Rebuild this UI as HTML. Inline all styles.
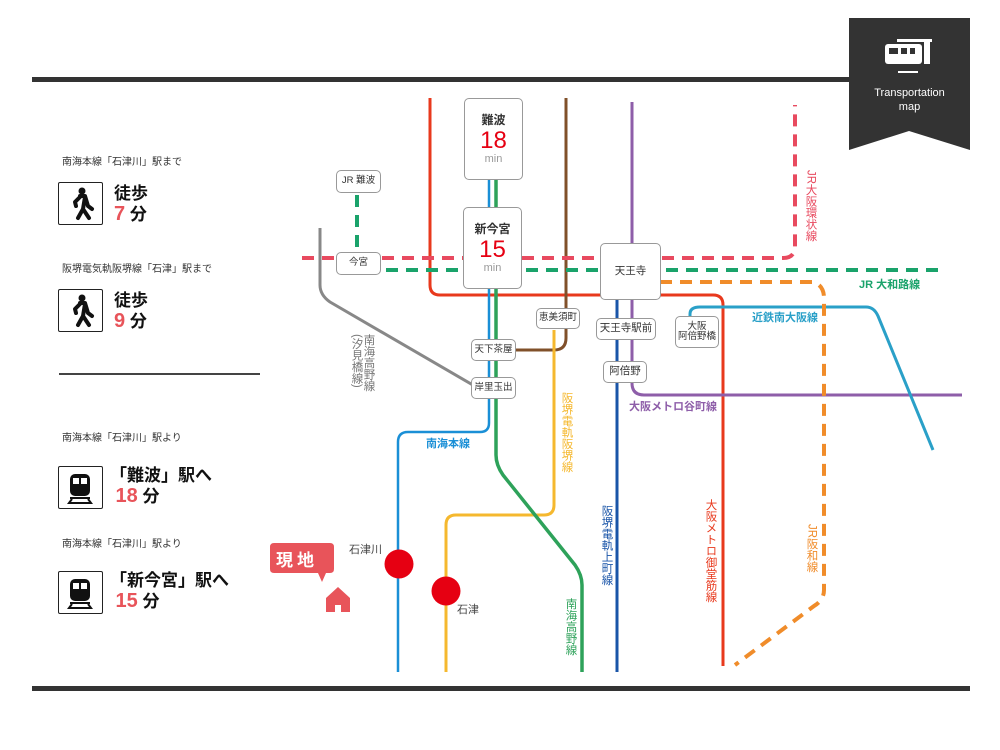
<!DOCTYPE html>
<html><head><meta charset="utf-8">
<style>
body{margin:0;background:#fff;}
#w{position:relative;width:1000px;height:750px;overflow:hidden;font-family:"Liberation Sans","Noto Sans CJK JP",sans-serif;}
.a{position:absolute;white-space:nowrap;}
.v{position:absolute;writing-mode:vertical-rl;line-height:1;font-size:11.5px;letter-spacing:0;}
.st{position:absolute;background:#fff;border:1.5px solid #999;border-radius:5px;box-sizing:border-box;font-size:10.5px;color:#333;display:flex;align-items:center;justify-content:center;text-align:center;line-height:1.1;}
.sm{font-size:11px;color:#333;}
.big{font-size:17px;font-weight:bold;color:#111;line-height:21px;}
.red{color:#e8545a;}
.ico{position:absolute;width:45px;height:43px;border:1.5px solid #222;box-sizing:border-box;border-radius:2px;}
</style></head><body><div id="w">
<svg width="1000" height="750" style="position:absolute;left:0;top:0">
<rect x="32" y="77" width="818" height="5" fill="#333"/>
<rect x="32" y="686" width="938" height="5" fill="#333"/>
<polygon points="849,18 970,18 970,150 909,131 849,150" fill="#333"/>
<g fill="none" stroke-linejoin="round">
<path d="M320,228 V285 Q320,295 330,302 L478,388" stroke="#888" stroke-width="3"/>
<path d="M430,98 V285 Q430,295 440,295 H713 Q723,295 723,305 V666" stroke="#e8391d" stroke-width="3"/>
<path d="M566,98 V338 Q566,350 554,350 H515" stroke="#80502a" stroke-width="3"/>
<path d="M554,330 V505 Q554,515 544,515 H456 Q446,515 446,525 V672" stroke="#f5b82e" stroke-width="3"/>
<path d="M489,180 V423 Q489,432 480,432 H408 Q398,432 398,442 V672" stroke="#1a8fd6" stroke-width="2.5"/>
<path d="M496,180 V455 Q496,465 503,475 L575,565 Q582,575 582,585 V672" stroke="#2ea25a" stroke-width="3.5"/>
<path d="M632,102 V383 Q632,395 644,395 H962" stroke="#8e5ea9" stroke-width="3"/>
<path d="M617,300 V672" stroke="#1a55a8" stroke-width="3"/>
<path d="M690,330 V314 Q690,307 700,307 H866 Q874,307 878,316 L933,450" stroke="#2aa0c8" stroke-width="3"/>
<path d="M302,258 H783 Q795,258 795,246 V105" stroke="#e84a5f" stroke-width="4" stroke-dasharray="12,8"/>
<path d="M386,270 H945" stroke="#1aa36b" stroke-width="4" stroke-dasharray="12,8"/>
<path d="M357,195 V250" stroke="#1aa36b" stroke-width="4" stroke-dasharray="12,8"/>
<path d="M660,282 H814 Q824,286 824,298 V590 Q824,600 814,606 L735,665" stroke="#f08c2a" stroke-width="4" stroke-dasharray="12,8"/>
</g>
<circle cx="399" cy="564" r="14.5" fill="#e60012"/>
<circle cx="446" cy="591" r="14.5" fill="#e60012"/>
<path d="M277,543 H330 Q334,543 334,547 V569 Q334,573 330,573 H326 L322,582 L318,573 H274 Q270,573 270,569 V547 Q270,543 274,543 Z" fill="#e8545a"/>
<polygon points="326,598 338,587 350,598 350,612 341,612 341,605 335,605 335,612 326,612" fill="#e8545a"/>
<rect x="897" y="39" width="35" height="3" fill="#fff"/>
<rect x="885" y="44" width="37" height="20" rx="3" fill="#fff"/>
<rect x="889" y="48" width="9" height="6" fill="#333"/><rect x="901" y="48" width="6" height="6" fill="#333"/><rect x="910" y="48" width="5" height="6" fill="#333"/>
<rect x="924" y="40" width="6" height="24" fill="#fff"/>
<rect x="898" y="71" width="20" height="2" fill="#fff"/>
</svg>
<div class="a" style="left:853px;top:86px;width:113px;text-align:center;color:#fff;font-size:11px;line-height:14px;">Transportation<br>map</div>

<div class="a" style="left:276px;top:546px;font-size:17px;font-weight:bold;color:#fff;letter-spacing:4px;">現地</div>
<div class="a sm" style="left:349px;top:541px;color:#444;">石津川</div>
<div class="a sm" style="left:457px;top:601px;color:#444;">石津</div>

<div class="st" style="left:464px;top:98px;width:59px;height:82px;flex-direction:column;"><b style="font-size:12px;color:#333">難波</b><span style="font-size:24px;color:#e60012;line-height:26px">18</span><span style="font-size:11px;color:#999;line-height:10px">min</span></div>
<div class="st" style="left:463px;top:207px;width:59px;height:82px;flex-direction:column;"><b style="font-size:12px;color:#333">新今宮</b><span style="font-size:24px;color:#e60012;line-height:26px">15</span><span style="font-size:11px;color:#999;line-height:10px">min</span></div>
<div class="st" style="left:600px;top:243px;width:61px;height:57px;">天王寺</div>
<div class="st" style="left:336px;top:170px;width:45px;height:23px;font-size:9.5px;">JR 難波</div>
<div class="st" style="left:336px;top:252px;width:45px;height:23px;font-size:9.5px;">今宮</div>
<div class="st" style="left:536px;top:308px;width:44px;height:21px;font-size:9.5px;">恵美須町</div>
<div class="st" style="left:471px;top:339px;width:45px;height:22px;font-size:9.5px;">天下茶屋</div>
<div class="st" style="left:471px;top:377px;width:45px;height:22px;font-size:9.5px;">岸里玉出</div>
<div class="st" style="left:596px;top:318px;width:60px;height:22px;">天王寺駅前</div>
<div class="st" style="left:603px;top:361px;width:44px;height:22px;">阿倍野</div>
<div class="st" style="left:675px;top:316px;width:44px;height:32px;font-size:9.5px;">大阪<br>阿倍野橋</div>

<div class="a" style="left:426px;top:435px;font-size:11px;color:#1a8fd6;font-weight:bold;">南海本線</div>
<div class="a" style="left:752px;top:309px;font-size:11px;color:#2aa0c8;font-weight:bold;">近鉄南大阪線</div>
<div class="a" style="left:859px;top:276px;font-size:11px;color:#1aa36b;font-weight:bold;">JR 大和路線</div>
<div class="a" style="left:629px;top:398px;font-size:11px;color:#8e5ea9;font-weight:bold;">大阪メトロ谷町線</div>
<div class="v" style="left:560px;top:392px;color:#f5b82e;">阪堺電軌阪堺線</div>
<div class="v" style="left:600px;top:505px;color:#1a55a8;">阪堺電軌上町線</div>
<div class="v" style="left:564px;top:598px;color:#2ea25a;">南海高野線</div>
<div class="v" style="left:704px;top:499px;color:#e8391d;">大阪メトロ御堂筋線</div>
<div class="v" style="left:805px;top:524px;color:#f08c2a;">JR阪和線</div>
<div class="v" style="left:804px;top:170px;color:#e84a5f;">JR大阪環状線</div>
<div class="v" style="left:362px;top:334px;color:#777;">南海高野線</div>
<div class="v" style="left:350px;top:334px;color:#777;">(汐見橋線)</div>

<div class="a sm" style="left:62px;top:153px;font-size:10px;">南海本線「石津川」駅まで</div>
<div class="ico" style="left:58px;top:182px;"></div>
<svg style="position:absolute;left:58px;top:182px" width="45" height="43"><circle cx="24" cy="9" r="3.5" fill="#111"/><path d="M22,14 L27,14 L30,24 L34,27 M27,15 L25,27 L31,36 M25,27 L20,36 M22,15 L17,20 L18,24" fill="none" stroke="#111" stroke-width="4" stroke-linecap="round" stroke-linejoin="round"/></svg>
<div class="a big" style="left:114px;top:183px;">徒歩<br><span class="red" style="font-size:20px">7</span> 分</div>

<div class="a sm" style="left:62px;top:260px;font-size:10px;">阪堺電気軌阪堺線「石津」駅まで</div>
<div class="ico" style="left:58px;top:289px;"></div>
<svg style="position:absolute;left:58px;top:289px" width="45" height="43"><circle cx="24" cy="9" r="3.5" fill="#111"/><path d="M22,14 L27,14 L30,24 L34,27 M27,15 L25,27 L31,36 M25,27 L20,36 M22,15 L17,20 L18,24" fill="none" stroke="#111" stroke-width="4" stroke-linecap="round" stroke-linejoin="round"/></svg>
<div class="a big" style="left:114px;top:290px;">徒歩<br><span class="red" style="font-size:20px">9</span> 分</div>

<div style="position:absolute;left:59px;top:373px;width:201px;height:2px;background:#444;"></div>

<div class="a sm" style="left:62px;top:429px;font-size:10px;">南海本線「石津川」駅より</div>
<div class="ico" style="left:58px;top:466px;"></div>
<svg style="position:absolute;left:58px;top:466px" width="45" height="43"><rect x="12" y="8" width="20" height="22" rx="5" fill="#111"/><rect x="15" y="12" width="6" height="6" fill="#fff"/><rect x="23" y="12" width="6" height="6" fill="#fff"/><rect x="12" y="31" width="20" height="2" fill="#111"/><path d="M14,33 L11,37 H33 L30,33" fill="none" stroke="#111" stroke-width="2"/></svg>
<div class="a big" style="left:110px;top:465px;">「難波」駅へ<br><span class="red" style="font-size:20px">&nbsp;18</span> 分</div>

<div class="a sm" style="left:62px;top:535px;font-size:10px;">南海本線「石津川」駅より</div>
<div class="ico" style="left:58px;top:571px;"></div>
<svg style="position:absolute;left:58px;top:571px" width="45" height="43"><rect x="12" y="8" width="20" height="22" rx="5" fill="#111"/><rect x="15" y="12" width="6" height="6" fill="#fff"/><rect x="23" y="12" width="6" height="6" fill="#fff"/><rect x="12" y="31" width="20" height="2" fill="#111"/><path d="M14,33 L11,37 H33 L30,33" fill="none" stroke="#111" stroke-width="2"/></svg>
<div class="a big" style="left:110px;top:570px;">「新今宮」駅へ<br><span class="red" style="font-size:20px">&nbsp;15</span> 分</div>
</div></body></html>
